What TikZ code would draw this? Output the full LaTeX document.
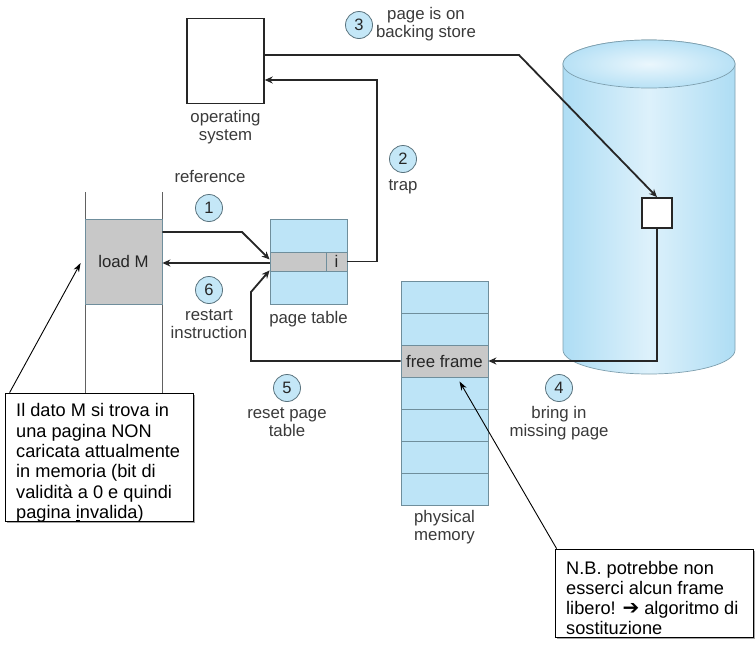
\documentclass[tikz,border=0pt]{standalone}
\usepackage{fontspec}
\setmainfont{Liberation Sans}
\newfontfamily\symfont{DejaVu Sans}
\usetikzlibrary{arrows.meta,calc,shadows}
\definecolor{tblue}{HTML}{BDE4F7}
\definecolor{numblue}{HTML}{C4E7F7}
\definecolor{cellgray}{HTML}{C8C8C8}
\definecolor{cylside}{HTML}{AEDDF4}
\definecolor{cylmid}{HTML}{DDF1FB}
\definecolor{cyledge}{HTML}{7E9FAE}
\definecolor{ink}{HTML}{262626}
\definecolor{txt}{HTML}{3A3A3A}
\definecolor{tedge}{HTML}{6F8E9C}
\begin{document}
\begin{tikzpicture}[x=1pt,y=-1pt,
  lbl/.style={text=txt,font=\fontsize{16.8}{18}\selectfont,align=center,inner sep=0},
  stepnum/.style={circle,draw=tedge!80!black,fill=numblue,line width=0.8pt,minimum size=27pt,inner sep=0,text=ink,font=\fontsize{16.5}{16.5}\selectfont},
  conn/.style={draw=ink,line width=1.8pt,-{Stealth[length=8pt,width=7pt]}},
  tcell/.style={draw=tedge,line width=0.8pt,fill=tblue,inner sep=0},
  gcell/.style={draw=tedge,line width=0.8pt,fill=cellgray,inner sep=0,text=ink,font=\fontsize{16.8}{18}\selectfont},
  notebox/.style={draw=black,line width=0.8pt,fill=white,inner sep=0,
     drop shadow={shadow xshift=1.5pt,shadow yshift=-1.5pt,fill=gray!70,opacity=1}},
  notetext/.style={align=left,inner sep=0,font=\fontsize{18.2}{20.3}\selectfont},
  callout/.style={draw=black,line width=0.9pt,-{Stealth[length=9pt,width=6pt]}}]
\useasboundingbox[fill=white] (0,0) rectangle (756,651);

% backing store cylinder
\shadedraw[left color=cylside,right color=cylside,middle color=cylmid,draw=cyledge,line width=0.7pt]
  (563,64) -- (563,350) arc[start angle=180,end angle=360,x radius=86pt,y radius=24pt]
  -- (735,64) arc[start angle=0,end angle=180,x radius=86pt,y radius=24pt] -- cycle;
\shadedraw[inner color=cylmid!60!white,outer color=cylside!80!cylmid,draw=cyledge,line width=0.7pt]
  (649,64) ellipse[x radius=86pt,y radius=24pt];
\node[draw=ink,fill=white,line width=1.8pt,minimum width=30pt,minimum height=30pt,inner sep=0] (sb) at (657,213) {};

% operating system
\node[draw=ink,fill=white,line width=1.5pt,minimum width=77pt,minimum height=85pt,inner sep=0] (os) at (225.5,61) {};
\node[lbl,anchor=north] (oslbl) at (225.5,110) {operating\\system};

% program column
\draw[draw=txt!80,line width=0.8pt] (85,192) -- (85,393);
\draw[draw=txt!80,line width=0.8pt] (162,192) -- (162,393);
\node[gcell,minimum width=77pt,minimum height=85pt] (loadM) at (123.5,261.5) {load M};

% page table
\node[tcell,minimum width=77pt,minimum height=85pt] (pt) at (308.5,261.5) {};
\node[gcell,minimum width=56pt,minimum height=19pt] (ptrow) at (298,261.5) {};
\node[gcell,minimum width=21pt,minimum height=19pt] (pti) at (336.5,261.5) {i};
\node[lbl,anchor=north] (ptlbl) at (308.5,311) {page table};

% physical memory
\foreach \i in {0,1,3,4,5,6}{
  \node[tcell,minimum width=87pt,minimum height=32pt] (m\i) at (444.5,297+32*\i) {};
}
\node[gcell,minimum width=87pt,minimum height=32pt] (ff) at (444.5,361) {free frame};
\node[lbl,anchor=north] (pmlbl) at (444.5,510) {physical\\memory};

% step labels
\node[lbl] (reflbl) at (210,177) {reference};
\node[stepnum] (n1) at (209,208) {1};
\node[stepnum] (n2) at (403,159) {2};
\node[lbl] (traplbl) at (403,187) {trap};
\node[stepnum] (n3) at (359,25) {3};
\node[lbl] (bslbl) at (426,24) {page is on\\backing store};
\node[stepnum] (n4) at (559,388) {4};
\node[lbl,anchor=north] (bilbl) at (559,406) {bring in\\missing page};
\node[stepnum] (n5) at (287,388) {5};
\node[lbl,anchor=north] (rplbl) at (287,407) {reset page\\table};
\node[stepnum] (n6) at (209,290) {6};
\node[lbl,anchor=north] (rilbl) at (209,309) {restart\\instruction};

% connectors
\coordinate (c3) at (519,55);
\draw[conn] (os.east |- 0,55) -- (c3) -- (sb.north);
\coordinate (c2) at (377,80);
\draw[conn] (pti.east) -| (c2) -- (os.east |- c2);
\draw[conn] (sb.south) |- (ff.east);
\coordinate (c5a) at (251,361);
\coordinate (c5b) at (251,292);
\draw[conn] (ff.west) -- (c5a) -- (c5b) -- ([yshift=1pt]ptrow.south west);
\coordinate (c1) at (242,232);
\draw[conn] (loadM.east |- c1) -- (c1) -- ([yshift=2pt]ptrow.west);
\draw[conn] ([yshift=-1.5pt]ptrow.west) -- ([yshift=-1.5pt]loadM.east);

% notes
\node[notebox,minimum width=188pt,minimum height=128pt] (note1) at (99,457) {};
\node[notetext,anchor=west] (note1t) at (16,463)
  {Il dato M si trova in\\una pagina NON\\caricata attualmente\\in memoria (bit di\\validità a 0 e quindi\\pagina \underline{i}nvalida)};
\node[notebox,minimum width=198pt,minimum height=88pt] (note2) at (654,593) {};
\node[notetext,anchor=west] (note2t) at (566,598)
  {N.B. potrebbe non\\esserci alcun frame\\libero! {\symfont\fontsize{20}{17}\selectfont ➔} algoritmo di\\sostituzione};
\draw[callout] ([xshift=5pt]note1.north west) -- ([xshift=-4pt,yshift=-1.5pt]loadM.west);
\draw[callout] ([xshift=2pt]note2.north west) -- ($(ff.south)+(15,4)$);
\end{tikzpicture}
\end{document}
